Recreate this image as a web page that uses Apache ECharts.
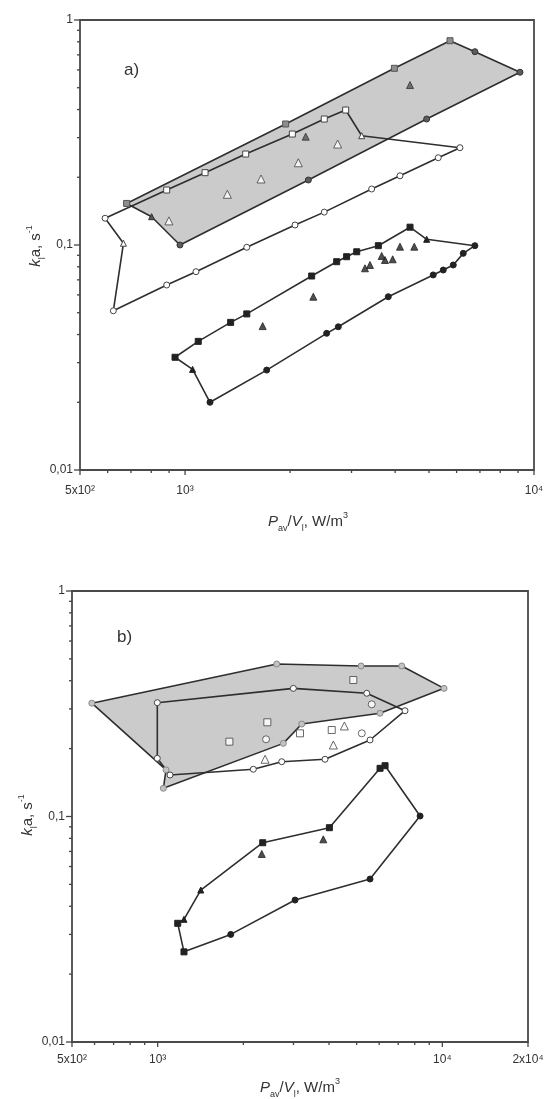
<!DOCTYPE html>
<html>
<head>
<meta charset="utf-8">
<script src="https://cdn.jsdelivr.net/npm/echarts@6/dist/echarts.min.js"></script>
<style>
  html, body { margin: 0; padding: 0; background: #fff; }
  #chart { width: 547px; height: 1099px; }
</style>
</head>
<body>
<div id="chart"></div>
<script>
// ---- panel a) ----
// shaded band: gray squares on top edge, dark circles on lower edge
const aShadeX = [680, 1942, 3980, 5745, 6770, 9117, 4925, 2256, 967, 802];
const aShadeY = [0.153, 0.345, 0.610, 0.809, 0.723, 0.586, 0.363, 0.1945, 0.100, 0.1336];
// open-marker loop
const aOpenX = [590, 886, 1141, 1492, 2030, 2506, 2886, 3208, 6135, 5316, 4130, 3426, 2506, 2066, 1503, 1075, 886, 623, 666];
const aOpenY = [0.1315, 0.1755, 0.2096, 0.2537, 0.3113, 0.363, 0.398, 0.306, 0.2707, 0.2443, 0.203, 0.1774, 0.140, 0.1227, 0.0977, 0.0761, 0.0664, 0.051, 0.1018];
// black loop (lower)
const aLowX = [4413, 3580, 3104, 2904, 2720, 2306, 1503, 1351, 1091, 936, 1051, 1179, 1714, 2546, 2749, 3823, 5142, 5495, 5870, 6270, 6770, 4925];
const aLowY = [0.120, 0.0993, 0.0933, 0.0887, 0.0843, 0.0728, 0.0494, 0.0453, 0.0373, 0.0317, 0.028, 0.020, 0.0278, 0.0405, 0.0433, 0.0589, 0.0736, 0.0774, 0.0815, 0.0918, 0.0993, 0.106];
// loose points
const aDarkTriX = [4413, 2217];
const aDarkTriY = [0.514, 0.303];
const aOpenTriX = [2737, 2111, 1651, 1322, 899];
const aOpenTriY = [0.281, 0.232, 0.1965, 0.168, 0.128];
const aBlackTriX = [4130, 4538, 3278, 3388, 3660, 3741, 3936, 2331, 1669];
const aBlackTriY = [0.0983, 0.0983, 0.0788, 0.0815, 0.0894, 0.0858, 0.0864, 0.0589, 0.0436];

// ---- panel b) ----
const bShadeX = [587, 2620, 5183, 7203, 10140, 6043, 3207, 2763, 1047, 1070];
const bShadeY = [0.318, 0.4745, 0.465, 0.465, 0.370, 0.287, 0.257, 0.211, 0.1334, 0.161];
const bOpenX = [997, 2997, 5427, 7396, 5573, 3872, 2728, 2168, 1105, 997];
const bOpenY = [0.3197, 0.370, 0.352, 0.2945, 0.2184, 0.1794, 0.175, 0.162, 0.1528, 0.1812];
const bLowX = [6043, 6293, 8354, 5573, 3038, 1806, 1237, 1176, 1237, 1417, 2339, 4011];
const bLowY = [0.1636, 0.168, 0.1005, 0.0528, 0.0426, 0.0300, 0.0251, 0.0336, 0.035, 0.0472, 0.0765, 0.0892];
const bOpenSqX = [4868, 2428, 1786, 3162, 4088];
const bOpenSqY = [0.403, 0.2617, 0.2147, 0.2338, 0.2418];
const bOpenCiX = [5650, 2403, 5212];
const bOpenCiY = [0.3145, 0.22, 0.2338];
const bOpenTriX = [4528, 4141, 2384];
const bOpenTriY = [0.252, 0.2075, 0.1794];
const bBlackTriX = [2321, 3818];
const bBlackTriY = [0.0682, 0.0792];

// ticks
const aXMajor = [500, 1000, 10000];
const aXLabels = ['5x10²', '10³', '10⁴'];
const aXMinor = [600, 700, 800, 900, 2000, 3000, 4000, 5000, 6000, 7000, 8000, 9000];
const bXMajor = [500, 1000, 10000, 20000];
const bXLabels = ['5x10²', '10³', '10⁴', '2x10⁴'];
const bXMinor = [600, 700, 800, 900, 2000, 3000, 4000, 5000, 6000, 7000, 8000, 9000];
const yMajor = [0.01, 0.1, 1];
const yLabels = ['0,01', '0,1', '1'];
const yMinor = [0.02, 0.03, 0.04, 0.05, 0.06, 0.07, 0.08, 0.09, 0.2, 0.3, 0.4, 0.5, 0.6, 0.7, 0.8, 0.9];

const FONT = '"Liberation Sans", Arial, sans-serif';
const INK = '#2e2e2e';
const MK = {
  gsq: { symbol: 'rect', color: '#8e8e8e', border: '#555' },
  dci: { symbol: 'circle', color: '#5c5c5c', border: '#333' },
  dtr: { symbol: 'triangle', color: '#555', border: '#333' },
  lci: { symbol: 'circle', color: '#c4c4c4', border: '#888' },
  osq: { symbol: 'rect', color: '#fff', border: '#444' },
  oci: { symbol: 'circle', color: '#fff', border: '#444' },
  otr: { symbol: 'triangle', color: '#fff', border: '#444' },
  bsq: { symbol: 'rect', color: '#222', border: '#222' },
  bci: { symbol: 'circle', color: '#222', border: '#222' },
  btr: { symbol: 'triangle', color: '#222', border: '#222' }
};

function pts(xs, ys) { return xs.map((x, i) => [x, ys[i]]); }

function fillSeries(g, xs, ys, color) {
  return {
    type: 'custom', xAxisIndex: g, yAxisIndex: g, z: 1, silent: true,
    data: pts(xs, ys),
    renderItem: (params, api) => {
      if (params.dataIndex !== 0) return;
      return {
        type: 'polygon',
        shape: { points: xs.map((x, i) => api.coord([x, ys[i]])) },
        style: { fill: color }
      };
    }
  };
}

function loopSeries(g, xs, ys, kindOf) {
  const d = pts(xs, ys).map((p, i) => {
    const m = MK[kindOf(i)];
    return { value: p, symbol: m.symbol, itemStyle: { color: m.color, borderColor: m.border, borderWidth: 1 } };
  });
  d.push({ value: [xs[0], ys[0]], symbol: 'none' });
  return {
    type: 'line', xAxisIndex: g, yAxisIndex: g, z: 3, silent: true,
    data: d, symbolSize: 6,
    lineStyle: { color: INK, width: 1.6 }
  };
}

function dotSeries(g, xs, ys, kind, size) {
  const m = MK[kind];
  return {
    type: 'scatter', xAxisIndex: g, yAxisIndex: g, z: 4, silent: true,
    data: pts(xs, ys), symbol: m.symbol, symbolSize: size || 7,
    itemStyle: { color: m.color, borderColor: m.border, borderWidth: 1 }
  };
}

function xTickSeries(g, major, labels, minor, gap) {
  const d = major.map(v => [v, 0.01, 1]).concat(minor.map(v => [v, 0.01, 0]));
  return {
    type: 'custom', xAxisIndex: g, yAxisIndex: g, z: 5, silent: true, clip: false,
    data: d,
    renderItem: (params, api) => {
      const isMajor = api.value(2) === 1;
      const p = api.coord([api.value(0), 0.01]);
      const kids = [{ type: 'line', shape: { x1: p[0], y1: p[1], x2: p[0], y2: p[1] + (isMajor ? 5 : 3) }, style: { stroke: '#444', lineWidth: 1.3 } }];
      if (isMajor) {
        kids.push({ type: 'text', style: { text: labels[major.indexOf(api.value(0))], x: p[0], y: p[1] + gap, align: 'center', verticalAlign: 'middle', font: '12px ' + FONT, fill: '#333' } });
      }
      return { type: 'group', children: kids };
    }
  };
}

function yTickSeries(g, xMin) {
  const d = yMajor.map(v => [xMin, v, 1]).concat(yMinor.map(v => [xMin, v, 0]));
  return {
    type: 'custom', xAxisIndex: g, yAxisIndex: g, z: 5, silent: true, clip: false,
    data: d,
    renderItem: (params, api) => {
      const isMajor = api.value(2) === 1;
      const p = api.coord([xMin, api.value(1)]);
      const kids = [{ type: 'line', shape: { x1: p[0], y1: p[1], x2: p[0] - (isMajor ? 6 : 3), y2: p[1] }, style: { stroke: '#444', lineWidth: 1.3 } }];
      if (isMajor) {
        kids.push({ type: 'text', style: { text: yLabels[yMajor.indexOf(api.value(1))], x: p[0] - 7, y: p[1], align: 'right', verticalAlign: 'middle', font: '12px ' + FONT, fill: '#333' } });
      }
      return { type: 'group', children: kids };
    }
  };
}

const rich = {
  n: { fontSize: 15, lineHeight: 22, fontFamily: FONT, fill: '#333', color: '#333' },
  i: { fontSize: 15, lineHeight: 22, fontStyle: 'italic', fontFamily: FONT, fill: '#333', color: '#333' },
  s: { fontSize: 9, lineHeight: 10, verticalAlign: 'bottom', fontFamily: FONT, fill: '#333', color: '#333' },
  p: { fontSize: 9, lineHeight: 10, verticalAlign: 'top', fontFamily: FONT, fill: '#333', color: '#333' }
};
const xTitle = '{i|P}{s|av}{n|/}{i|V}{s|l}{n|, W/m}{p|3}';
const yTitle = '{i|k}{s|l}{n|a, s}{p|-1}';

function label(x, y, text, rot) {
  return {
    type: 'text', x: x, y: y, rotation: rot || 0, z: 10,
    style: { text: text, rich: rich, align: 'center', verticalAlign: 'middle', font: '15px ' + FONT, fill: '#333' }
  };
}

const chart = echarts.init(document.getElementById('chart'));
const axisCommon = {
  type: 'log', logBase: 10,
  axisLine: { show: false }, axisTick: { show: false },
  axisLabel: { show: false }, splitLine: { show: false }
};
chart.setOption({
  animation: false,
  backgroundColor: '#fff',
  grid: [
    { left: 80, top: 20, width: 454, height: 450, show: true, borderColor: '#4a4a4a', borderWidth: 1.8 },
    { left: 72, top: 591, width: 456, height: 451, show: true, borderColor: '#4a4a4a', borderWidth: 1.8 }
  ],
  xAxis: [
    Object.assign({ gridIndex: 0, min: 500, max: 10000 }, axisCommon),
    Object.assign({ gridIndex: 1, min: 500, max: 20000 }, axisCommon)
  ],
  yAxis: [
    Object.assign({ gridIndex: 0, min: 0.01, max: 1 }, axisCommon),
    Object.assign({ gridIndex: 1, min: 0.01, max: 1 }, axisCommon)
  ],
  graphic: [
    { type: 'text', x: 124, y: 70, style: { text: 'a)', font: '17px ' + FONT, fill: '#333', verticalAlign: 'middle' } },
    { type: 'text', x: 117, y: 637, style: { text: 'b)', font: '17px ' + FONT, fill: '#333', verticalAlign: 'middle' } },
    label(308, 522, xTitle),
    label(300, 1088, xTitle),
    label(36, 246, yTitle, Math.PI / 2),
    label(28, 815, yTitle, Math.PI / 2)
  ],
  series: [
    // panel a
    fillSeries(0, aShadeX, aShadeY, '#cbcbcb'),
    loopSeries(0, aShadeX, aShadeY, i => i < 4 ? 'gsq' : (i < 9 ? 'dci' : 'dtr')),
    loopSeries(0, aOpenX, aOpenY, i => (i === 7 || i === 18) ? 'otr' : (i >= 1 && i <= 6 ? 'osq' : 'oci')),
    loopSeries(0, aLowX, aLowY, i => i <= 9 ? 'bsq' : (i === 10 || i === 21 ? 'btr' : 'bci')),
    dotSeries(0, aDarkTriX, aDarkTriY, 'dtr'),
    dotSeries(0, aOpenTriX, aOpenTriY, 'otr', 8),
    dotSeries(0, aBlackTriX, aBlackTriY, 'btr'),
    xTickSeries(0, aXMajor, aXLabels, aXMinor, 21),
    yTickSeries(0, 500),
    // panel b
    fillSeries(1, bShadeX, bShadeY, '#cbcbcb'),
    loopSeries(1, bShadeX, bShadeY, i => 'lci'),
    loopSeries(1, bOpenX, bOpenY, i => 'oci'),
    loopSeries(1, bLowX, bLowY, i => (i <= 1 || i >= 10 || i === 6 || i === 7) ? 'bsq' : (i === 8 || i === 9 ? 'btr' : 'bci')),
    dotSeries(1, bOpenSqX, bOpenSqY, 'osq'),
    dotSeries(1, bOpenCiX, bOpenCiY, 'oci'),
    dotSeries(1, bOpenTriX, bOpenTriY, 'otr', 8),
    dotSeries(1, bBlackTriX, bBlackTriY, 'btr'),
    xTickSeries(1, bXMajor, bXLabels, bXMinor, 18),
    yTickSeries(1, 500)
  ]
});
</script>
</body>
</html>
